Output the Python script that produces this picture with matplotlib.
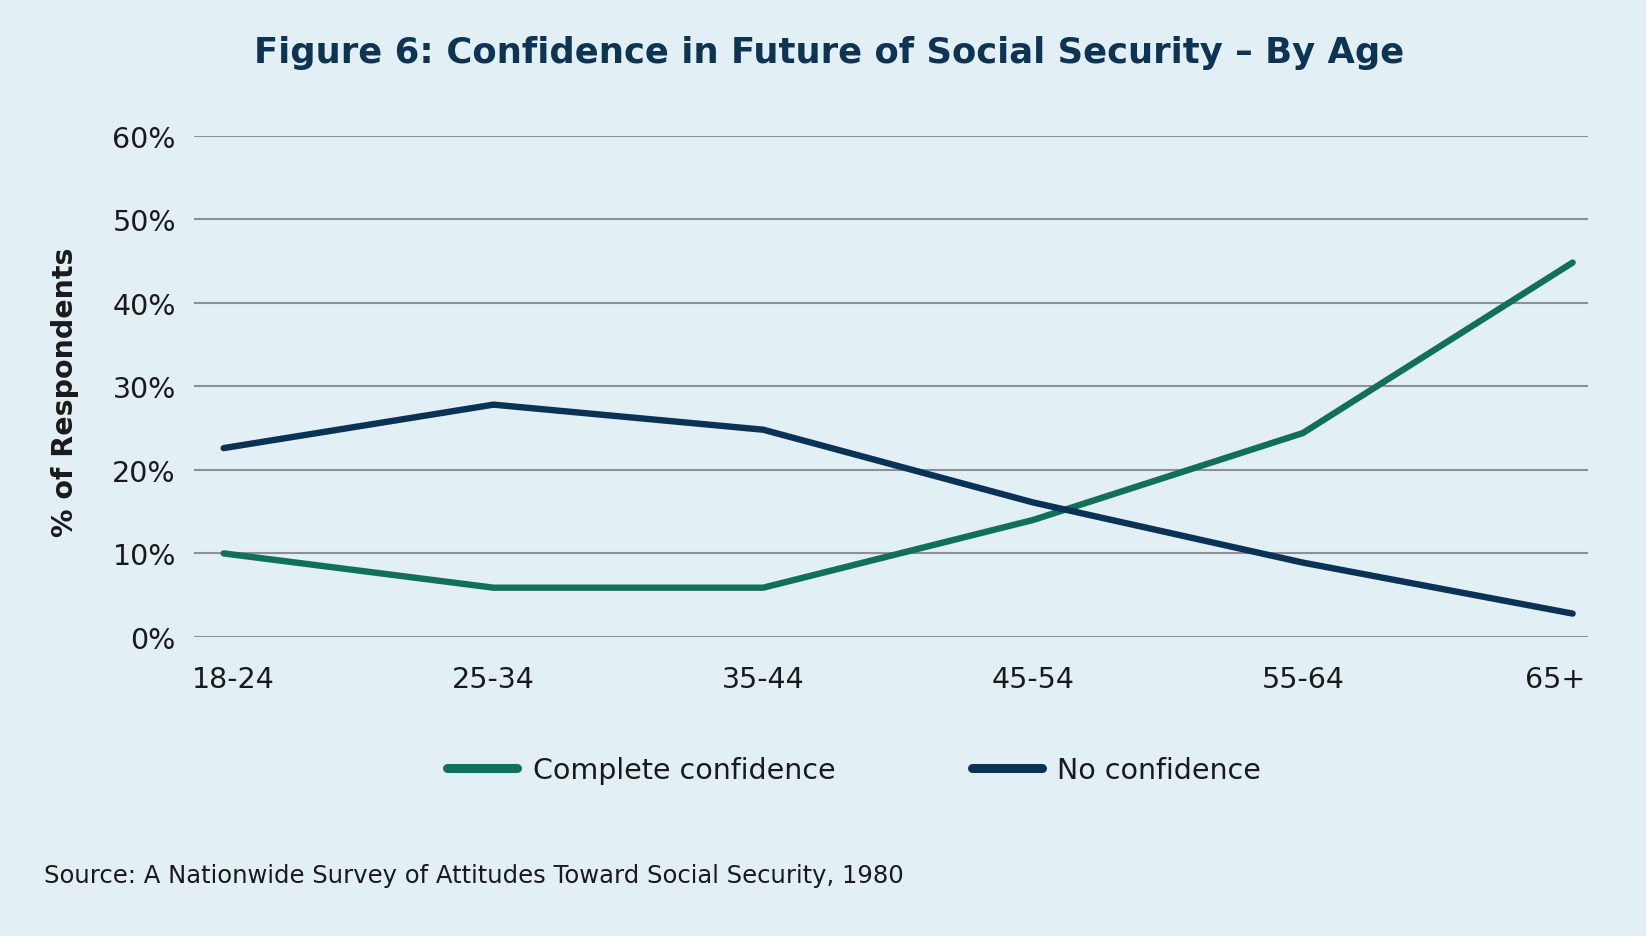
import matplotlib
matplotlib.use("Agg")
import matplotlib.pyplot as plt
import matplotlib.transforms as mtransforms

# values (% of respondents)
age_groups = ["18-24", "25-34", "35-44", "45-54", "55-64", "65+"]
complete_confidence = [10.0, 5.9, 5.9, 14.0, 24.4, 44.8]
no_confidence = [22.6, 27.8, 24.8, 16.1, 8.9, 2.8]
y_ticks = [0, 10, 20, 30, 40, 50, 60]

BG = "#E2EFF5"
GREEN = "#11705B"
NAVY = "#0A3254"
TITLE = "#0D3452"
GRID = "#8C9198"
TEXT = "#1A1A1A"

plt.rcParams["font.family"] = ["DejaVu Sans"]

fig = plt.figure(figsize=(16.46, 9.37), dpi=100, facecolor=BG)
ax = fig.add_axes([194 / 1646, 1 - 638 / 937, (1588 - 194) / 1646, (638 - 136.5) / 937])
ax.set_facecolor(BG)

x = list(range(len(age_groups)))
ax.plot(x, complete_confidence, color=GREEN, lw=4.6, solid_capstyle="round",
        solid_joinstyle="round", label="Complete confidence", zorder=3)
ax.plot(x, no_confidence, color=NAVY, lw=4.6, solid_capstyle="round",
        solid_joinstyle="round", label="No confidence", zorder=3)

ax.set_xlim(-0.11, 5.057)
ax.set_ylim(0, 60)
ax.set_yticks(y_ticks)
ax.set_yticklabels([f"{v}%" for v in y_ticks])
ax.set_xticks(x)
ax.set_xticklabels(age_groups)
ax.yaxis.grid(True, color=GRID, lw=1.5)
ax.set_axisbelow(True)
for s in ax.spines.values():
    s.set_visible(False)
ax.tick_params(axis="both", length=0, labelsize=20.5, colors=TEXT)
ax.tick_params(axis="y", pad=13)
ax.tick_params(axis="x", pad=20)

# keep the outer category labels inside the plot area, as in the original
labels = ax.get_xticklabels()
labels[0].set_transform(labels[0].get_transform()
                        + mtransforms.ScaledTranslation(10 / 100, 0, fig.dpi_scale_trans))
labels[-1].set_transform(labels[-1].get_transform()
                         + mtransforms.ScaledTranslation(-17 / 100, 0, fig.dpi_scale_trans))

fig.text(65 / 1646, 1 - 392 / 937, "% of Respondents", rotation=90, fontsize=20.5,
         fontweight="semibold", color=TEXT, ha="center", va="center")

# title in two weights, centred as one line
renderer = fig.canvas.get_renderer()
t1 = fig.text(0, 1 - 53 / 937, "Figure 6:", fontsize=25.5, fontweight="heavy",
              color=TITLE, va="center")
t2 = fig.text(0, 1 - 53 / 937, " Confidence in Future of Social Security \u2013 By Age",
              fontsize=25.5, fontweight="semibold", color=TITLE, va="center")
w1 = t1.get_window_extent(renderer).width
w2 = t2.get_window_extent(renderer).width
x0 = 829 - (w1 + w2) / 2
t1.set_x(x0 / 1646)
t2.set_x((x0 + w1) / 1646)

leg = fig.legend(loc="center", bbox_to_anchor=(0.519, 1 - 771 / 937), ncol=2,
                 frameon=False, fontsize=20.5, handlelength=2.45, handletextpad=0.55,
                 columnspacing=4.8)
for h in leg.get_lines():
    h.set_linewidth(6.5)
    h.set_solid_capstyle("round")
for t in leg.get_texts():
    t.set_color(TEXT)

fig.text(44 / 1646, 1 - 876 / 937,
         "Source: A Nationwide Survey of Attitudes Toward Social Security, 1980",
         fontsize=17.5, color=TEXT, va="center", ha="left")

fig.savefig("out.png", dpi=100, facecolor=BG)
